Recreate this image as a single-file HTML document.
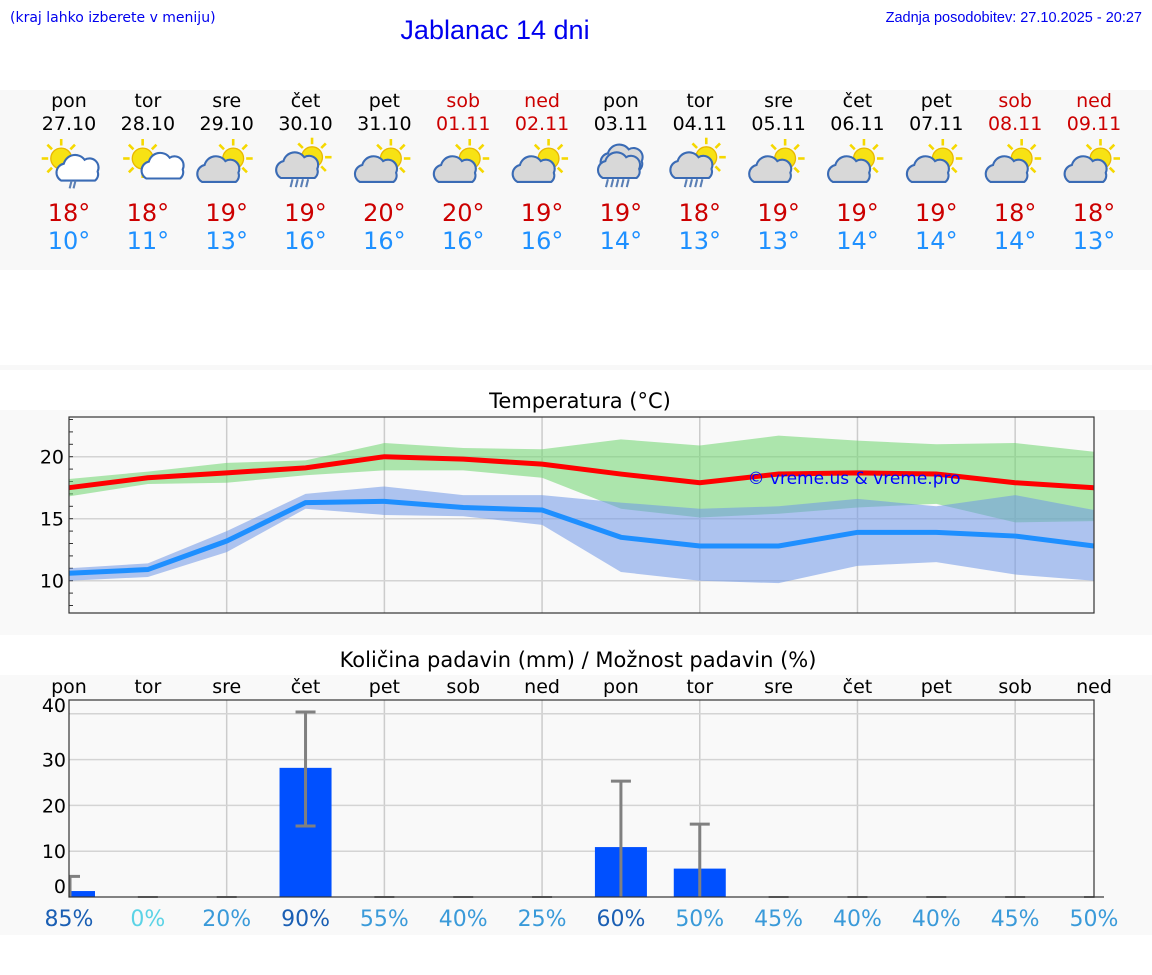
<!DOCTYPE html>
<html><head><meta charset="utf-8"><style>
html,body{margin:0;padding:0;background:#fff;width:1152px;height:975px;overflow:hidden}
svg text{font-family:"DejaVu Sans","Liberation Sans",sans-serif}
</style></head><body>
<svg id="s" width="1152" height="975" xmlns="http://www.w3.org/2000/svg">
<rect x="0" y="90" width="1152" height="180" fill="#f8f8f8"/>
<rect x="0" y="365" width="1152" height="5" fill="#f8f8f8"/>
<rect x="0" y="410" width="1152" height="225" fill="#f9f9f9"/>
<rect x="0" y="675" width="1152" height="260" fill="#f9f9f9"/>
<text x="10" y="22" font-size="14" fill="#0000ee">(kraj lahko izberete v meniju)</text>
<text x="495" y="39" font-size="27" fill="#0000ee" text-anchor="middle" style="font-family:'Liberation Sans',sans-serif">Jablanac 14 dni</text>
<text x="1142" y="22" font-size="14.5" fill="#0000ee" text-anchor="end" style="font-family:'Liberation Sans',sans-serif">Zadnja posodobitev: 27.10.2025 - 20:27</text>
<text x="580" y="408" font-size="21" text-anchor="middle">Temperatura (°C)</text>
<text x="578" y="667" font-size="21" text-anchor="middle">Količina padavin (mm) / Možnost padavin (%)</text>
<g id="g"></g>
</svg>
<script>
const days=["pon","tor","sre","čet","pet","sob","ned","pon","tor","sre","čet","pet","sob","ned"];
const dates=["27.10","28.10","29.10","30.10","31.10","01.11","02.11","03.11","04.11","05.11","06.11","07.11","08.11","09.11"];
const hiT=[18,18,19,19,20,20,19,19,18,19,19,19,18,18];
const loT=[10,11,13,16,16,16,16,14,13,13,14,14,14,13];
const icons=["sunrain","suncloud","cloudsun","rainsun","cloudsun","cloudsun","cloudsun","rain","rainsun","cloudsun","cloudsun","cloudsun","cloudsun","cloudsun"];
const maxLine=[17.5,18.3,18.7,19.1,20.0,19.8,19.4,18.6,17.9,18.6,18.7,18.6,17.9,17.5];
const maxHi=[18.2,18.8,19.5,19.7,21.1,20.7,20.6,21.4,20.9,21.7,21.3,21.0,21.1,20.4];
const maxLo=[16.8,17.8,17.9,18.5,18.9,18.9,18.3,15.8,15.1,15.4,15.9,16.2,14.7,14.8];
const minLine=[10.6,10.9,13.2,16.3,16.4,15.9,15.7,13.5,12.8,12.8,13.9,13.9,13.6,12.8];
const minHi=[11.0,11.4,14.0,17.0,17.6,16.9,16.9,16.3,15.8,16.0,16.6,16.0,16.9,15.7];
const minLo=[10.0,10.3,12.3,15.8,15.3,15.2,14.5,10.7,10.0,9.8,11.2,11.5,10.5,10.0];
const tTicks=[10,15,20];
const rain=[1.3,0,0,28.2,0,0,0,10.9,6.2,0,0,0,0,0];
const rainHi=[4.5,0,0,40.4,0,0,0,25.3,15.9,0,0,0,0,0];
const rainLo=[0,0,0,15.5,0,0,0,0,0,0,0,0,0,0];
const prob=[85,0,20,90,55,40,25,60,50,45,40,40,45,50];
const rTicks=[0,10,20,30,40];
const NS="http://www.w3.org/2000/svg",G=document.getElementById('g');
function el(t,a,p){const e=document.createElementNS(NS,t);for(const k in a)e.setAttribute(k,a[k]);(p||G).appendChild(e);return e;}
const L=69,R=1094;const X=i=>L+i*(R-L)/13;
const yT=t=>456.7-(t-20)*12.4;const yR=v=>897-v*4.58;
days.forEach((d,i)=>{const x=X(i),wk=i==5||i==6||i==12||i==13;
let e=el('text',{x:x,y:107,'font-size':19,'text-anchor':'middle',fill:wk?'#cc0000':'#000'});e.textContent=d;


e=el('text',{x:x,y:130,'font-size':19,'text-anchor':'middle',fill:wk?'#cc0000':'#000'});e.textContent=dates[i];


e=el('text',{x:x,y:221,'font-size':24,'text-anchor':'middle',fill:'#cc0000'});e.textContent=hiT[i]+'°';


e=el('text',{x:x,y:249,'font-size':24,'text-anchor':'middle',fill:'#1e90ff'});e.textContent=loT[i]+'°';


const g=el('g',{transform:`translate(${x},165) scale(1.3)`});


const k=icons[i];
const sun=(cx,cy,r)=>{for(let a=0;a<8;a++){const an=a*Math.PI/4;el('line',{x1:cx+Math.cos(an)*(r+2),y1:cy+Math.sin(an)*(r+2),x2:cx+Math.cos(an)*(r+7),y2:cy+Math.sin(an)*(r+7),stroke:'#f5d800','stroke-width':2},g);}el('circle',{cx:cx,cy:cy,r:r,fill:'#f7e214',stroke:'#e8b800'},g);};
const cloud=(cx,cy,s,fill)=>{el('path',{d:`M${cx-14*s},${cy+8*s} a7,7 0 0 1 2,-13 a9,9 0 0 1 16,-3 a7,7 0 0 1 10,9 a6,6 0 0 1 -2,7 z`,fill:fill,stroke:'#3a6bb5','stroke-width':1.6},g);};
if(k=='sunrain'){sun(-6,-5,8);cloud(8,4,1,'#fff');el('path',{d:'M2,12 l-1.5,6 M5,12 l-1.5,6',stroke:'#5a7fb5','stroke-width':1.6},g);}
else if(k=='suncloud'){sun(-4,-5,8);cloud(10,4,0.8,'#fff');}
else if(k=='cloudsun'){sun(5,-5,8);cloud(-5,5,1,'#d8d8d8');}
else if(k=='rainsun'){sun(5,-6,8);cloud(-5,2,1,'#d8d8d8');el('path',{d:'M-10,11 l-1.5,6 M-6,11 l-1.5,6 M-2,11 l-1.5,6 M2,11 l-1.5,6',stroke:'#5a7fb5','stroke-width':1.6},g);}
else {cloud(2,-4,1,'#d8d8d8');cloud(0,2,1,'#d8d8d8');el('path',{d:'M-10,11 l-1.5,6 M-6,11 l-1.5,6 M-2,11 l-1.5,6 M2,11 l-1.5,6 M6,11 l-1.5,6',stroke:'#5a7fb5','stroke-width':1.6},g);}
});
const tg=el('g',{});


el('rect',{x:L,y:417,width:R-L,height:196,fill:'#f9f9f9'},tg);
for(let i=2;i<13;i+=2)el('line',{x1:X(i),x2:X(i),y1:417,y2:613,stroke:'#ccc','stroke-width':1.5},tg);
tTicks.forEach(t=>{el('line',{x1:L,x2:R,y1:yT(t),y2:yT(t),stroke:'#d4d4d4','stroke-width':1.5},tg);
const e=el('text',{x:L-5,y:yT(t)+7,'font-size':19,'text-anchor':'end'},tg);e.textContent=t;

});
for(let t=8;t<=23;t++)el('line',{x1:L,x2:L+4,y1:yT(t),y2:yT(t),stroke:'#333'},tg);
const band=(hi,lo,c,n)=>{let d='M'+hi.map((v,i)=>X(i)+','+yT(v)).join(' L')+' L'+lo.map((v,i)=>X(i)+','+yT(v)).reverse().join(' L')+'Z';
const e=el('path',{d:d,fill:c,'fill-opacity':0.55},tg);};
band(maxHi,maxLo,'#6dd66d','max-temp-range');band(minHi,minLo,'#6f97e8','min-temp-range');
const line=(a,c,n)=>{const e=el('polyline',{points:a.map((v,i)=>X(i)+','+yT(v)).join(' '),fill:'none',stroke:c,'stroke-width':5},tg);};
line(minLine,'#1e8fff','min-temp-line');line(maxLine,'#ff0000','max-temp-line');
el('rect',{x:L,y:417,width:R-L,height:196,fill:'none',stroke:'#333','stroke-width':1.2},tg);
let w=el('text',{x:854,y:484,'font-size':17,'text-anchor':'middle',fill:'#0000ff'},tg);w.textContent='© vreme.us & vreme.pro';


const pg=el('g',{});


for(let i=2;i<13;i+=2)el('line',{x1:X(i),x2:X(i),y1:700,y2:897,stroke:'#ccc','stroke-width':1.5},pg);
rTicks.forEach(t=>{if(t>0)el('line',{x1:L,x2:R,y1:yR(t),y2:yR(t),stroke:'#d4d4d4','stroke-width':1.5},pg);
const e=el('text',{x:L-3,y:yR(t)-(t==0?4:-(t==40?-2:7)),'font-size':19,'text-anchor':'end'},pg);e.textContent=t;

});
days.forEach((d,i)=>{const e=el('text',{x:X(i),y:693,'font-size':19,'text-anchor':'middle'},pg);e.textContent=d;

});
rain.forEach((v,i)=>{const x0=Math.max(L,X(i)-26),x1=Math.min(R,X(i)+26);
if(v>0){const b=el('rect',{x:x0,y:yR(v),width:x1-x0,height:yR(0)-yR(v),fill:'#0050ff'},pg);}
const xe=X(i)+(i==0?1:0);
if(rainHi[i]>0){el('line',{x1:xe,x2:xe,y1:yR(rainHi[i]),y2:yR(rainLo[i]),stroke:'#808080','stroke-width':3},pg);
el('line',{x1:Math.max(L,xe-10),x2:xe+10,y1:yR(rainHi[i]),y2:yR(rainHi[i]),stroke:'#808080','stroke-width':3},pg);
if(rainLo[i]>0)el('line',{x1:xe-10,x2:xe+10,y1:yR(rainLo[i]),y2:yR(rainLo[i]),stroke:'#808080','stroke-width':3},pg);}
else el('line',{x1:xe-10,x2:xe+10,y1:yR(0),y2:yR(0),stroke:'#808080','stroke-width':2},pg);
const c=prob[i]>=60?'#1a5fb4':prob[i]==0?'#5bd3e6':'#3a9ad9';
const e=el('text',{x:X(i),y:926,'font-size':22,'text-anchor':'middle',fill:c},pg);e.textContent=prob[i]+'%';

});
el('rect',{x:L,y:700,width:R-L,height:197,fill:'none',stroke:'#333','stroke-width':1.2},pg);
</script>
</body></html>
